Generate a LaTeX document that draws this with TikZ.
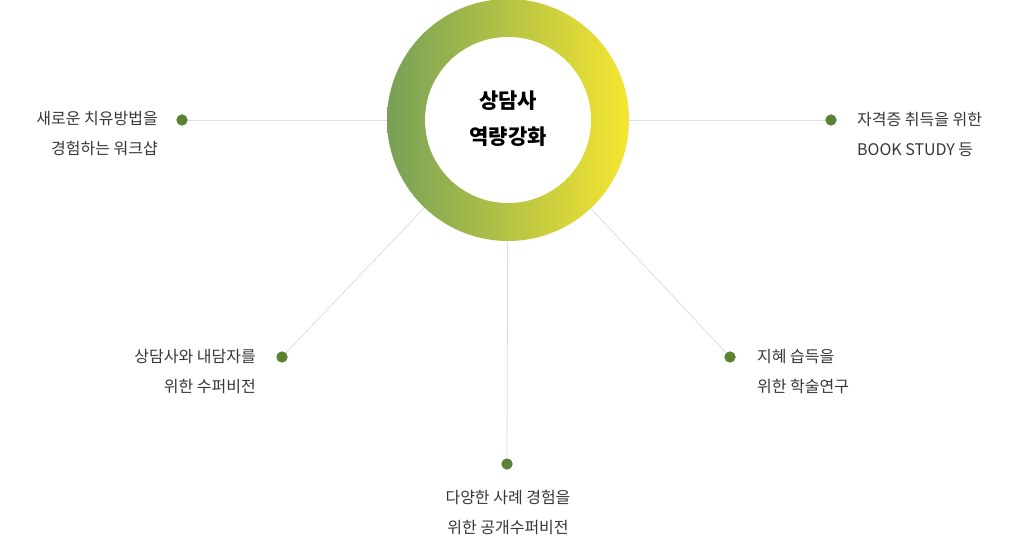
\documentclass[tikz,border=0pt]{standalone}
\usepackage{fontspec}
\setmainfont{Noto Sans CJK KR}
\definecolor{ringL}{RGB}{118,160,88}
\definecolor{ringR}{RGB}{246,230,48}
\definecolor{dotc}{RGB}{92,128,52}
\definecolor{linec}{RGB}{222,222,222}
\definecolor{txt}{RGB}{55,55,55}
\begin{document}
\begin{tikzpicture}[x=1pt,y=-1pt,
  dotn/.style={circle,fill=dotc,inner sep=0pt,minimum size=11pt},
  conn/.style={draw=linec,line width=0.8pt},
  lab/.style={text=txt,font=\fontsize{16}{30}\selectfont,inner sep=0pt}]
\useasboundingbox (0,0) rectangle (1020,540);
% connectors first
\coordinate (c) at (508,120);
\node[dotn] (d1) at (182,120) {};
\node[dotn] (d2) at (831,120) {};
\node[dotn] (d3) at (282,357) {};
\node[dotn] (d4) at (730,357) {};
\node[dotn] (d5) at (507,464) {};
\draw[conn] (c) -- (d1);
\draw[conn] (c) -- (d2);
\draw[conn] (c) -- (d3);
\draw[conn] (c) -- (d4);
\draw[conn] (c) -- (d5);
\shade[left color=ringL,right color=ringR] (c) circle (121);
\fill[white] (c) circle (83);
\node[dotn] at (182,120) {};
\node[dotn] at (831,120) {};
\node[dotn] at (282,357) {};
\node[dotn] at (730,357) {};
\node[dotn] at (507,464) {};
\node[font=\fontsize{21}{36}\selectfont\bfseries,text=black,align=center] (t) at (508,119) {상담사\\역량강화};
\node[lab,anchor=east,align=right] (l1) at (158,134) {새로운 치유방법을\\경험하는 워크샵};
\node[lab,anchor=west,align=left] (l2) at (857,134) {자격증 취득을 위한\\BOOK STUDY 등};
\node[lab,anchor=east,align=right] (l3) at (256,372) {상담사와 내담자를\\위한 수퍼비전};
\node[lab,anchor=west,align=left] (l4) at (757,372) {지혜 습득을\\위한 학술연구};
\node[lab,align=center] (l5) at (508,512) {다양한 사례 경험을\\위한 공개수퍼비전};
\end{tikzpicture}
\end{document}
